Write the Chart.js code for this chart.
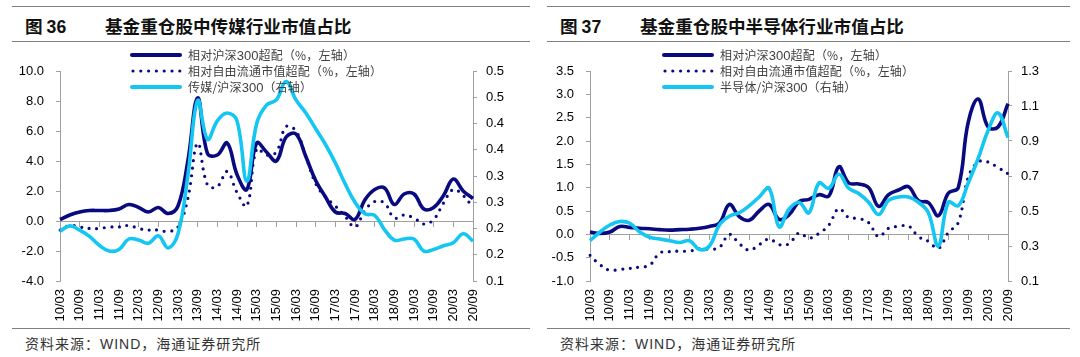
<!DOCTYPE html>
<html><head><meta charset="utf-8">
<script src="https://cdn.jsdelivr.net/npm/chart.js@4.4.1/dist/chart.umd.min.js"></script>
<style>
html,body{margin:0;padding:0;background:#fff;}
#wrap{position:relative;width:1080px;height:357px;overflow:hidden;background:#fff;}
.panel{position:absolute;top:0;width:540px;height:357px;}
.hline{position:absolute;height:0;border-top:1.5px solid #808080;}
.fig{position:absolute;top:14px;font-family:"Noto Sans CJK SC";font-weight:700;font-size:17.6px;color:#111;line-height:24px;white-space:nowrap;}
.fig .num{font-family:"Liberation Sans",Arial,sans-serif;font-weight:700;}
.src{position:absolute;top:332px;font-family:"Noto Sans CJK SC";font-size:14px;color:#333;line-height:22px;white-space:nowrap;letter-spacing:1px;}
.src .en{font-family:"Liberation Sans",Arial,sans-serif;}
.cv{position:absolute;left:0;top:48px;}
.leg{position:absolute;font-family:"Noto Sans CJK SC";font-size:12px;color:#404040;letter-spacing:0.2px;line-height:16px;white-space:nowrap;}
.leg .en{font-family:"Liberation Sans",Arial,sans-serif;letter-spacing:0;font-size:13px;}
.legsw{position:absolute;}
</style>
</head><body>
<div id="wrap">
  <div class="panel" id="p1" style="left:0">
    <div class="hline" style="left:12px;top:6px;width:518px"></div>
    <div class="fig" style="left:25px">图 <span class="num">36</span></div>
    <div class="fig" style="left:105px">基金重仓股中传媒行业市值占比</div>
    <div class="hline" style="left:12px;top:41px;width:518px"></div>
    <canvas class="cv" id="c1" width="540" height="275"></canvas>
    <div id="leg1"></div>
    <div class="hline" style="left:12px;top:328px;width:518px"></div>
    <div class="src" style="left:25px">资料来源：<span class="en">WIND</span>，海通证券研究所</div>
  </div>
  <div class="panel" id="p2" style="left:540px">
    <div class="hline" style="left:7px;top:6px;width:523px"></div>
    <div class="fig" style="left:20px">图 <span class="num">37</span></div>
    <div class="fig" style="left:100px">基金重仓股中半导体行业市值占比</div>
    <div class="hline" style="left:7px;top:41px;width:523px"></div>
    <canvas class="cv" id="c2" width="540" height="275"></canvas>
    <div id="leg2"></div>
    <div class="hline" style="left:7px;top:328px;width:523px"></div>
    <div class="src" style="left:20px">资料来源：<span class="en">WIND</span>，海通证券研究所</div>
  </div>
</div>
<script>
// ---------- data ----------
const quarters = ['10/03','10/06','10/09','10/12','11/03','11/06','11/09','11/12','12/03','12/06','12/09','12/12',
  '13/03','13/06','13/09','13/12','14/03','14/06','14/09','14/12','15/03','15/06','15/09','15/12',
  '16/03','16/06','16/09','16/12','17/03','17/06','17/09','17/12','18/03','18/06','18/09','18/12',
  '19/03','19/06','19/09','19/12','20/03','20/06','20/09'];

// Fig 36 media
const mediaHS300 = [0.1,0.4,0.6,0.7,0.7,0.7,0.8,1.1,0.9,0.6,0.9,0.5,1.0,4.0,8.2,4.5,4.4,5.2,3.1,2.1,5.2,4.6,4.0,5.6,5.8,4.3,2.7,1.6,0.6,0.5,0.1,1.4,2.1,2.2,1.1,1.8,1.8,0.8,0.9,1.7,2.8,2.0,1.5];
const mediaFree = [-0.6,-0.3,-0.4,-0.5,-0.5,-0.4,-0.4,-0.3,-0.5,-0.6,-0.6,-0.7,-0.4,1.5,5.2,2.4,2.3,3.3,1.9,1.0,4.8,4.4,4.6,6.3,6.0,4.3,2.5,1.6,1.0,0.3,-0.4,0.7,1.3,1.2,0.2,0.4,0.2,-0.2,0.1,1.2,2.1,1.7,0.9];
const mediaRatio = [0.195,0.205,0.197,0.185,0.168,0.157,0.16,0.18,0.178,0.172,0.186,0.163,0.19,0.30,0.444,0.37,0.405,0.42,0.405,0.29,0.40,0.435,0.445,0.48,0.445,0.42,0.39,0.36,0.325,0.285,0.25,0.228,0.225,0.198,0.178,0.18,0.18,0.157,0.16,0.167,0.173,0.19,0.176];
const mediaLeftTicks = [-4,-2,0,2,4,6,8,10];
const mediaLeftLabels = ['-4.0','-2.0','0.0','2.0','4.0','6.0','8.0','10.0'];
const mediaRightTicks = [0.1,0.15,0.2,0.25,0.3,0.35,0.4,0.45,0.5];
const mediaRightLabels = ['0.1','0.2','0.2','0.3','0.3','0.4','0.4','0.5','0.5'];

// Fig 37 semiconductor
const semiHS300 = [0.05,0.02,0.05,0.17,0.15,0.13,0.12,0.10,0.09,0.10,0.11,0.13,0.17,0.24,0.64,0.38,0.30,0.50,0.64,0.32,0.42,0.70,0.75,0.85,0.82,1.45,1.10,1.08,1.0,0.60,0.85,0.95,1.02,0.72,0.68,0.40,0.88,1.0,2.4,2.9,2.3,2.3,2.8];
const semiFree = [-0.45,-0.65,-0.77,-0.75,-0.73,-0.7,-0.66,-0.4,-0.37,-0.36,-0.36,-0.31,-0.32,-0.28,0.0,-0.2,-0.34,-0.22,-0.1,-0.22,-0.2,0.03,-0.08,0.02,0.2,0.55,0.36,0.34,0.25,-0.05,0.13,0.17,0.18,-0.05,-0.15,-0.3,0.04,0.25,1.22,1.55,1.55,1.43,1.3];
const semiRatio = [0.33,0.38,0.42,0.44,0.43,0.38,0.35,0.34,0.33,0.32,0.33,0.28,0.30,0.42,0.47,0.49,0.53,0.58,0.63,0.41,0.51,0.55,0.49,0.66,0.63,0.71,0.63,0.60,0.55,0.48,0.56,0.58,0.58,0.55,0.49,0.30,0.55,0.53,0.66,0.80,0.96,1.06,0.92];
const semiLeftTicks = [-1,-0.5,0,0.5,1,1.5,2,2.5,3,3.5];
const semiLeftLabels = ['-1.0','-0.5','0.0','0.5','1.0','1.5','2.0','2.5','3.0','3.5'];
const semiRightTicks = [0.1,0.3,0.5,0.7,0.9,1.1,1.3];
const semiRightLabels = ['0.1','0.3','0.5','0.7','0.9','1.1','1.3'];

const NAVY = '#0a0a80';
const LIGHT = '#14c6f2';
const AXIS = '#a0a0a0';
const TICKFONT = {family:'"Liberation Sans", Arial, sans-serif', size:13};

function buildChart(id, o) {
  const H = 275, top = 23, plotH = 210;
  return new Chart(document.getElementById(id), {
    type: 'line',
    data: {
      labels: quarters,
      datasets: [
        {label:o.names[2], data:o.ratio, yAxisID:'y1', xAxisID:'x', borderColor:LIGHT, borderWidth:3.6, pointRadius:0, tension:0.4, fill:false, order:0},
        {label:o.names[1], data:o.free, yAxisID:'y', xAxisID:'x', borderColor:NAVY, borderWidth:3.2, borderDash:[0,7.6], borderCapStyle:'round', pointRadius:0, tension:0.4, fill:false, order:1},
        {label:o.names[0], data:o.hs, yAxisID:'y', xAxisID:'x', borderColor:NAVY, borderWidth:3.6, pointRadius:0, tension:0.4, fill:false, order:2}
      ]
    },
    options: {
      responsive:false, animation:false, devicePixelRatio:1,
      layout:{padding:{top:top,left:0,right:0,bottom:0}},
      plugins:{legend:{display:false}, tooltip:{enabled:false}},
      scales: {
        x: {
          type:'category', position:'bottom',
          grid:{display:false, drawTicks:false},
          border:{display:false},
          ticks:{autoSkip:false, maxRotation:90, minRotation:90, padding:8, color:'#000', font:TICKFONT,
                 callback:(v,i)=> i%2===0 ? quarters[i] : ''},
          afterFit:s=>{ s.height = H - top - plotH; }
        },
        x2: {
          type:'category', position:{y:0},
          grid:{display:true, drawOnChartArea:false, drawTicks:true, tickLength:5,
                color:c=> c.index%2===0 ? AXIS : 'rgba(0,0,0,0)',
                tickColor:c=> c.index%2===0 ? AXIS : 'rgba(0,0,0,0)'},
          border:{display:true, color:AXIS, width:1},
          ticks:{display:false, autoSkip:false}
        },
        y: {
          position:'left', min:o.lt[0], max:o.lt[o.lt.length-1],
          afterBuildTicks:s=>{ s.ticks = o.lt.map(v=>({value:v})); },
          ticks:{color:'#000', font:TICKFONT, padding:12, callback:(v,i)=>o.ll[i]},
          grid:{display:true, drawOnChartArea:false, drawTicks:true, tickLength:4, color:AXIS},
          border:{display:true, color:AXIS, width:1},
          afterFit:s=>{ s.width = o.left; }
        },
        y1: {
          position:'right', min:o.rt[0], max:o.rt[o.rt.length-1],
          afterBuildTicks:s=>{ s.ticks = o.rt.map(v=>({value:v})); },
          ticks:{color:'#000', font:TICKFONT, padding:9, callback:(v,i)=>o.rl[i]},
          grid:{display:true, drawOnChartArea:false, drawTicks:true, tickLength:4, color:AXIS},
          border:{display:true, color:AXIS, width:1},
          afterFit:s=>{ s.width = o.right; }
        }
      }
    }
  });
}

buildChart('c1', {hs:mediaHS300, free:mediaFree, ratio:mediaRatio,
  names:['相对沪深300超配（%，左轴）','相对自由流通市值超配（%，左轴）','传媒/沪深300（右轴）'],
  lt:mediaLeftTicks, ll:mediaLeftLabels, rt:mediaRightTicks, rl:mediaRightLabels, left:60, right:67});
buildChart('c2', {hs:semiHS300, free:semiFree, ratio:semiRatio,
  names:['相对沪深300超配（%，左轴）','相对自由流通市值超配（%，左轴）','半导体/沪深300（右轴）'],
  lt:semiLeftTicks, ll:semiLeftLabels, rt:semiRightTicks, rl:semiRightLabels, left:50, right:72});

// ---------- legends ----------
function legend(el, x0, names) {
  const rows = [55, 71, 87];
  const styles = [
    `<line x1="2" y1="5" x2="50" y2="5" stroke="${NAVY}" stroke-width="4" stroke-linecap="round"/>`,
    `<line x1="3" y1="5" x2="50" y2="5" stroke="${NAVY}" stroke-width="3.2" stroke-dasharray="0 7.8" stroke-linecap="round"/>`,
    `<line x1="2" y1="5" x2="50" y2="5" stroke="${LIGHT}" stroke-width="4" stroke-linecap="round"/>`
  ];
  let html = '';
  names.forEach((n,i)=>{
    html += `<svg class="legsw" style="left:${x0}px;top:${rows[i]-5}px" width="54" height="10">${styles[i]}</svg>`;
    const t = n.replace('300','<span class="en">300</span>');
    html += `<div class="leg" style="left:${x0+58}px;top:${rows[i]-8}px">${t}</div>`;
  });
  document.getElementById(el).innerHTML = html;
}
legend('leg1', 130, ['相对沪深300超配（%，左轴）','相对自由流通市值超配（%，左轴）','传媒/沪深300（右轴）']);
legend('leg2', 122, ['相对沪深300超配（%，左轴）','相对自由流通市值超配（%，左轴）','半导体/沪深300（右轴）']);
</script>
</body></html>
